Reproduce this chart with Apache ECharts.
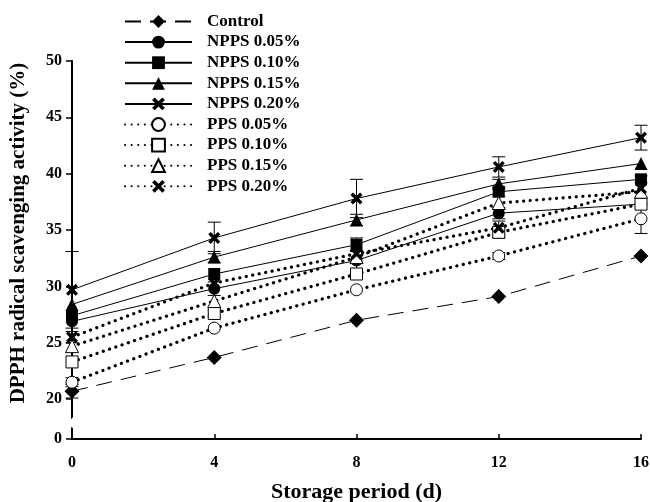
<!DOCTYPE html>
<html lang="en">

<head>
    <meta charset="UTF-8">
    <title>DPPH radical scavenging activity</title>
    <script src="https://cdn.jsdelivr.net/npm/echarts@6.0.0/dist/echarts.min.js"></script>
    <style>
        html,
        body {
            margin: 0px;
            background-color: white;
        }

        #chart {
            width: 650px;
            height: 502px;
        }
    </style>
    <script>
        // storage days
        var days = [0, 4, 8, 12, 16];
        var yTicks = [0, 20, 25, 30, 35, 40, 45, 50];

        var names = ['Control', 'NPPS 0.05%', 'NPPS 0.10%', 'NPPS 0.15%', 'NPPS 0.20%',
            'PPS 0.05%', 'PPS 0.10%', 'PPS 0.15%', 'PPS 0.20%'];

        var control = [20.7, 23.7, 27.0, 29.1, 32.7];
        var npps005 = [26.9, 29.8, 32.3, 36.5, 37.3];
        var npps010 = [27.4, 31.1, 33.7, 38.4, 39.5];
        var npps015 = [28.4, 32.6, 35.9, 39.1, 40.9];
        var npps020 = [29.7, 34.3, 37.8, 40.6, 43.2];
        var pps005 = [21.5, 26.3, 29.7, 32.7, 36.0];
        var pps010 = [23.3, 27.6, 31.1, 34.8, 37.3];
        var pps015 = [24.7, 28.7, 32.6, 37.4, 38.4];
        var pps020 = [25.5, 30.3, 32.9, 35.2, 38.7];

        // error bars (+/-)
        var errControl = [0.6, 0, 0, 0, 0];
        var errNpps005 = [0, 0.6, 0.9, 0.5, 0];
        var errNpps010 = [0, 0, 0.6, 0.4, 0.3];
        var errNpps015 = [0, 0.5, 0.5, 0.4, 0];
        var errNpps020 = [3.4, 1.4, 1.7, 0.9, 1.1];
        var errPps005 = [0.4, 0, 0, 0.3, 1.3];
        var errPps010 = [0, 0.3, 0, 0.5, 0];
        var errPps015 = [0, 0, 0, 0, 0];
        var errPps020 = [0.5, 0, 0, 0.6, 0];

        var FONT = 'Liberation Serif';
        var xSym = 'path://M0,2L2,0L5,3L8,0L10,2L7,5L10,8L8,10L5,7L2,10L0,8L3,5Z';
        var solid = { color: '#000', width: 1, type: 'solid' };
        var dotted = { color: '#000', width: 3.2, type: [0.1, 6.5], cap: 'round' };
        var dashed = { color: '#000', width: 1, type: [16, 9] };
        var filled = { color: '#000' };
        var open = { color: '#fff', borderColor: '#000', borderWidth: 1 };

        function lineSeries(name, vals, symbol, size, lineStyle, itemStyle) {
            return {
                name: name,
                type: 'line',
                z: 3,
                symbol: symbol,
                symbolSize: size,
                showAllSymbol: true,
                lineStyle: lineStyle,
                itemStyle: itemStyle,
                emphasis: { disabled: true },
                data: days.map(function (d, i) { return [d, vals[i]]; })
            };
        }

        function errorSeries(vals, errs) {
            return {
                type: 'custom',
                silent: true,
                z: 2,
                renderItem: function (params, api) {
                    var x = api.value(0), y = api.value(1), e = api.value(2);
                    if (!e) return null;
                    var top = api.coord([x, y + e]);
                    var bot = api.coord([x, y - e]);
                    var w = 6.5;
                    var st = { stroke: '#000', lineWidth: 1 };
                    return {
                        type: 'group',
                        children: [
                            { type: 'line', shape: { x1: top[0], y1: top[1], x2: bot[0], y2: bot[1] }, style: st },
                            { type: 'line', shape: { x1: top[0] - w, y1: top[1], x2: top[0] + w, y2: top[1] }, style: st },
                            { type: 'line', shape: { x1: bot[0] - w, y1: bot[1], x2: bot[0] + w, y2: bot[1] }, style: st }
                        ]
                    };
                },
                data: days.map(function (d, i) { return [d, vals[i], errs[i]]; })
            };
        }

        window.onload = function () {
            var chart = echarts.init(document.getElementById('chart'));
            chart.setOption({
                animation: false,
                backgroundColor: '#fff',
                grid: { left: 72, right: 9, top: 61, bottom: 63, containLabel: false, outerBoundsMode: 'none' },
                legend: {
                    data: names,
                    orient: 'vertical',
                    left: 119,
                    top: 8,
                    itemWidth: 67,
                    itemHeight: 16,
                    itemGap: 3.6,
                    selectedMode: false,
                    textStyle: { fontFamily: FONT, fontWeight: 'bold', fontSize: 17, color: '#000', padding: [0, 0, 0, 10] }
                },
                graphic: [{
                    type: 'text',
                    x: 19,
                    y: 233,
                    rotation: Math.PI / 2,
                    style: {
                        text: 'DPPH radical scavenging activity (%)',
                        font: 'bold 21px "Liberation Serif"',
                        fill: '#000',
                        textAlign: 'center',
                        textVerticalAlign: 'middle'
                    }
                }],
                xAxis: {
                    type: 'value',
                    min: 0,
                    max: 16,
                    interval: 4,
                    name: 'Storage period (d)',
                    nameLocation: 'middle',
                    nameGap: 42,
                    nameTextStyle: { fontFamily: FONT, fontWeight: 'bold', fontSize: 22, color: '#000' },
                    axisLine: { lineStyle: { color: '#000', width: 2 } },
                    axisTick: { inside: true, length: 5, lineStyle: { color: '#000', width: 1.5 } },
                    axisLabel: { margin: 16, fontFamily: FONT, fontWeight: 'bold', fontSize: 16, color: '#000' },
                    splitLine: { show: false }
                },
                yAxis: {
                    type: 'value',
                    min: 0,
                    max: 50,
                    breaks: [{ start: 1, end: 18.35, gap: '2.65%' }],
                    breakArea: {
                        show: true,
                        expandOnClick: false,
                        zigzagAmplitude: 3,
                        itemStyle: { color: '#fff', borderColor: '#fff', borderWidth: 0, opacity: 1 }
                    },
                    axisLine: { onZero: false, lineStyle: { color: '#000', width: 2 } },
                    axisTick: { customValues: yTicks, length: 6, lineStyle: { color: '#000', width: 1.5 } },
                    axisLabel: { customValues: yTicks, margin: 10, fontFamily: FONT, fontWeight: 'bold', fontSize: 16, color: '#000' },
                    splitLine: { show: false }
                },
                series: [
                    lineSeries(names[0], control, 'diamond', 15, dashed, filled),
                    lineSeries(names[1], npps005, 'circle', 12, solid, filled),
                    lineSeries(names[2], npps010, 'rect', 12, solid, filled),
                    lineSeries(names[3], npps015, 'triangle', 13, solid, filled),
                    lineSeries(names[4], npps020, xSym, 12, solid, filled),
                    lineSeries(names[5], pps005, 'circle', 12, dotted, open),
                    lineSeries(names[6], pps010, 'rect', 12, dotted, open),
                    lineSeries(names[7], pps015, 'triangle', 13, dotted, open),
                    lineSeries(names[8], pps020, xSym, 12, dotted, filled),
                    errorSeries(control, errControl),
                    errorSeries(npps005, errNpps005),
                    errorSeries(npps010, errNpps010),
                    errorSeries(npps015, errNpps015),
                    errorSeries(npps020, errNpps020),
                    errorSeries(pps005, errPps005),
                    errorSeries(pps010, errPps010),
                    errorSeries(pps015, errPps015),
                    errorSeries(pps020, errPps020)
                ]
            });
        };
    </script>
</head>

<body>
    <div id="chart"></div>
</body>

</html>
